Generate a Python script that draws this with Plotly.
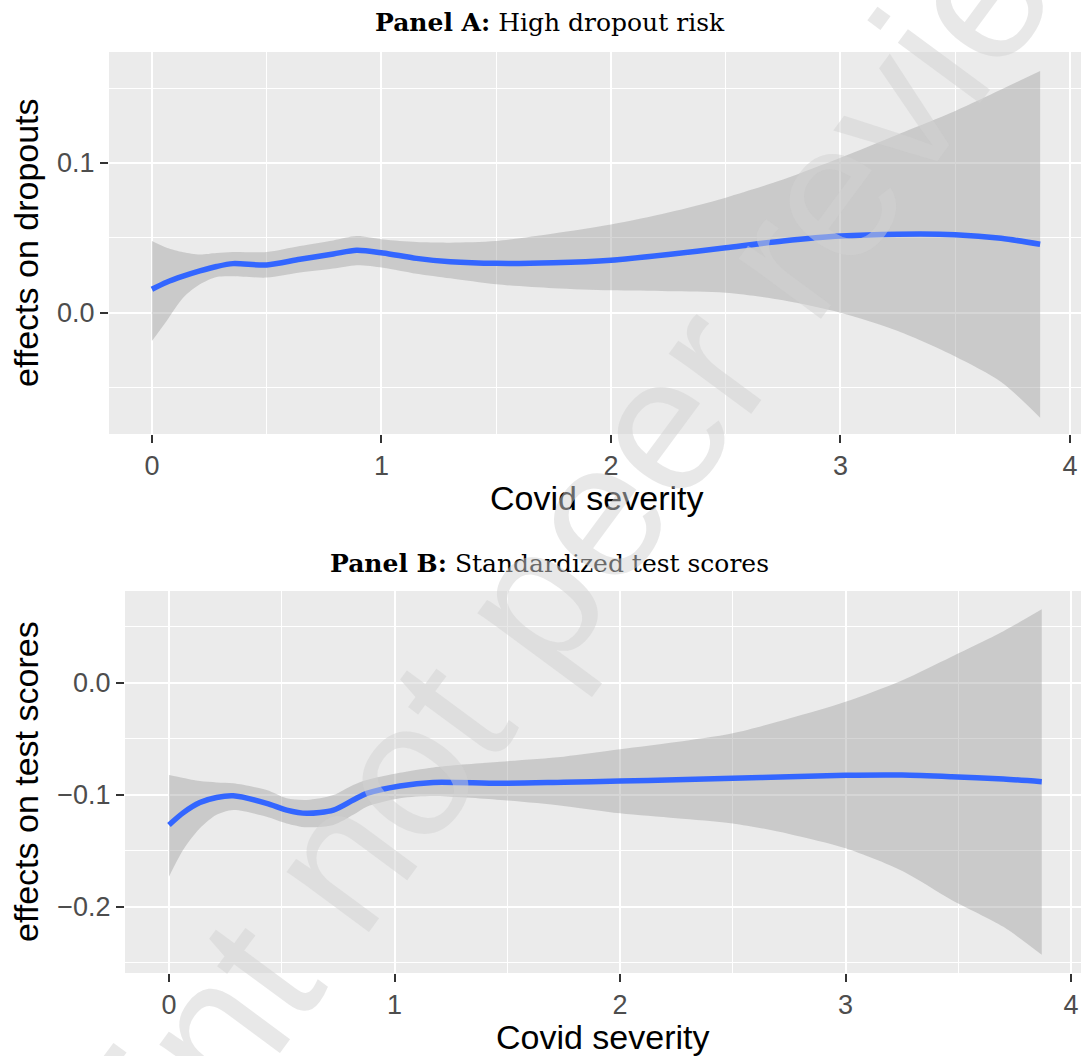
import plotly.graph_objects as go

# ---------------- data ----------------
# Panel A: High dropout risk
a_x = [0.0, 0.064, 0.136, 0.209, 0.282, 0.353, 0.5, 0.645, 0.79, 0.892, 1.007, 1.153, 1.3, 1.5,
       1.75, 2.0, 2.25, 2.5, 2.75, 3.0, 3.25, 3.5, 3.7, 3.87]
a_fit = [0.0158, 0.0205, 0.0245, 0.028, 0.031, 0.0329, 0.032, 0.0358, 0.0393, 0.0418, 0.040, 0.0364,
         0.0342, 0.0331, 0.0335, 0.0352, 0.039, 0.0435, 0.048, 0.0513, 0.0525, 0.0522, 0.0498, 0.0458]
a_hi = [0.048, 0.0435, 0.0405, 0.039, 0.040, 0.0407, 0.0407, 0.0447, 0.0484, 0.0513, 0.049, 0.0473,
        0.0469, 0.048, 0.053, 0.059, 0.067, 0.0769, 0.089, 0.1035, 0.119, 0.1347, 0.149, 0.1613]
a_lo = [-0.0187, -0.0053, 0.0102, 0.0191, 0.024, 0.0245, 0.0236, 0.0269, 0.0296, 0.0318, 0.0302, 0.0262,
        0.0231, 0.0191, 0.0165, 0.0151, 0.0145, 0.0135, 0.0085, 0.0002, -0.012, -0.029, -0.046, -0.0698]

# Panel B: Standardized test scores
b_x = [0.0, 0.064, 0.137, 0.211, 0.285, 0.433, 0.522, 0.611, 0.729, 0.817, 0.877, 1.024, 1.172, 1.468,
       1.75, 2.0, 2.25, 2.5, 2.75, 3.0, 3.25, 3.47, 3.7, 3.87]
b_fit = [-0.127, -0.116, -0.107, -0.1025, -0.101, -0.1077, -0.1137, -0.1166, -0.1137, -0.1047, -0.0988,
         -0.0922, -0.089, -0.0898, -0.0888, -0.0878, -0.0866, -0.0854, -0.084, -0.0827, -0.0825, -0.0839,
         -0.086, -0.0884]
b_hi = [-0.0824, -0.085, -0.0878, -0.089, -0.0898, -0.0958, -0.1032, -0.1047, -0.1003, -0.0913, -0.0869,
        -0.0804, -0.0756, -0.0705, -0.066, -0.0595, -0.053, -0.0452, -0.032, -0.017, 0.002, 0.0232,
        0.046, 0.0655]
b_lo = [-0.1732, -0.149, -0.130, -0.118, -0.1137, -0.1196, -0.1256, -0.1291, -0.127, -0.118, -0.1107,
        -0.1032, -0.1012, -0.1047, -0.110, -0.1166, -0.121, -0.1256, -0.135, -0.1479, -0.168, -0.194,
        -0.218, -0.243]

x_ticks = [0, 1, 2, 3, 4]
a_yticks = [0.0, 0.1]
b_yticks = [-0.2, -0.1, 0.0]

titles = ["<b>Panel A:</b> High dropout risk", "<b>Panel B:</b> Standardized test scores"]
x_title = "Covid severity"
y_titles = ["effects on dropouts", "effects on test scores"]
watermark = "Preprint not peer reviewed"

# ---------------- styling ----------------
W, H = 1081, 1056
BAND = "rgba(153,153,153,0.4)"
BLUE = "#3366FF"
PANEL_BG = "#EBEBEB"
SANS = "Liberation Sans, Arial, sans-serif"
SERIF = "DejaVu Serif, serif"

fig = go.Figure()

def add_panel(xs, fit, hi, lo, xa, ya):
    fig.add_trace(go.Scatter(
        x=xs, y=lo, mode="lines", line=dict(width=0, shape="spline", smoothing=0.8),
        hoverinfo="skip", showlegend=False, xaxis=xa, yaxis=ya))
    fig.add_trace(go.Scatter(
        x=xs, y=hi, mode="lines", fill="tonexty", fillcolor=BAND,
        line=dict(width=0, shape="spline", smoothing=0.8),
        hoverinfo="skip", showlegend=False, xaxis=xa, yaxis=ya))
    fig.add_trace(go.Scatter(
        x=xs, y=fit, mode="lines", line=dict(color=BLUE, width=5.5, shape="spline", smoothing=0.8),
        showlegend=False, xaxis=xa, yaxis=ya))

add_panel(a_x, a_fit, a_hi, a_lo, "x", "y")
add_panel(b_x, b_fit, b_hi, b_lo, "x2", "y2")

def px_x(p):
    return p / W

def px_y(p):
    return 1 - p / H

common_x = dict(
    tickvals=x_ticks, ticks="outside", ticklen=8, tickwidth=2.2, tickcolor="#333333",
    showgrid=True, gridcolor="white", gridwidth=2.2, zeroline=False, showline=False,
    tickfont=dict(family=SANS, size=27, color="#4D4D4D"),
    minor=dict(dtick=0.5, tick0=0, showgrid=True, gridcolor="white", gridwidth=1.1, ticks=""),
)
common_y = dict(
    ticks="outside", ticklen=8, tickwidth=2.2, tickcolor="#333333",
    showgrid=True, gridcolor="white", gridwidth=2.2, zeroline=False, showline=False,
    tickfont=dict(family=SANS, size=27, color="#4D4D4D"), tickformat=".1f",
    minor=dict(dtick=0.05, tick0=0, showgrid=True, gridcolor="white", gridwidth=1.1, ticks=""),
)

fig.update_layout(
    width=W, height=H, margin=dict(l=0, r=0, t=0, b=0),
    paper_bgcolor="white", plot_bgcolor=PANEL_BG,
    xaxis=dict(domain=[px_x(109), 1], range=[-0.187, 4.048], anchor="y", **common_x),
    yaxis=dict(domain=[px_y(434), px_y(52)], range=[-0.0807, 0.174], tickvals=a_yticks,
               anchor="x", **common_y),
    xaxis2=dict(domain=[px_x(125), 1], range=[-0.195, 4.044], anchor="y2", **common_x),
    yaxis2=dict(domain=[px_y(973), px_y(591)], range=[-0.2592, 0.0819], tickvals=b_yticks,
                anchor="x2", **common_y),
)

def note(text, x, y, size, family, color="black", angle=0):
    return dict(text=text, x=px_x(x), y=px_y(y), xref="paper", yref="paper",
                xanchor="center", yanchor="middle", textangle=angle, showarrow=False,
                font=dict(family=family, size=size, color=color))

ann = [
    note(titles[0], 550, 22, 25, SERIF),
    note(titles[1], 549, 563, 25, SERIF),
    note(x_title, 597, 498, 34, SANS),
    note(x_title, 603, 1037, 34, SANS),
    note(y_titles[0], 26, 243, 34, SANS, angle=-90),
    note(y_titles[1], 26, 782, 34, SANS, angle=-90),
    note(watermark, 546, 579, 193, SANS, color="rgba(210,210,210,0.5)", angle=-53.6),
]
fig.update_layout(annotations=ann)

fig.write_html("out.html", config={"displayModeBar": False},
               post_script="document.body.style.margin='0';")
